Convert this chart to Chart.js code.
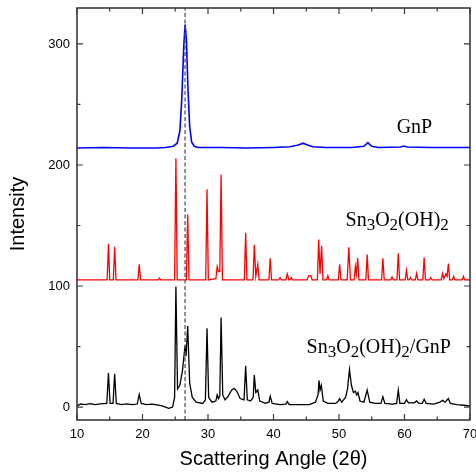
<!DOCTYPE html>
<html>
<head>
<meta charset="utf-8">
<script src="https://cdn.jsdelivr.net/npm/chart.js@4.4.1/dist/chart.umd.min.js"></script>
<style>
  html, body { margin: 0; padding: 0; background: #fff; }
  #wrap { width: 476px; height: 472px; }
</style>
</head>
<body>
<div id="wrap"><canvas id="grafico" width="476" height="472"></canvas></div>
<script>
// XRD patterns: [2θ, intensity]
const gnpPattern = [
  [10, 214], [14, 214.5], [18, 214], [22, 214], [23.5, 214.5], [24.7, 215.5], [25.3, 218],
  [25.7, 228], [26.0, 255], [26.3, 298], [26.5, 316], [26.7, 304], [26.95, 262], [27.2, 232],
  [27.5, 219], [27.9, 215.5], [28.5, 214.5], [32, 214.5], [36, 214], [40, 214.5], [42.5, 215],
  [43.8, 216.5], [44.5, 218], [45.2, 216.5], [46, 215], [48, 214.5], [52, 214.5], [53.8, 215.5],
  [54.4, 218.5], [55, 215.5], [56, 214.5], [59.4, 214.8], [59.9, 215.6], [60.4, 214.8],
  [64, 214.5], [70, 214.5]
];

const tinPattern = [
  [10, 105], [14.6, 105], [14.8, 135], [15.0, 105], [15.55, 105], [15.75, 132.5], [15.95, 105],
  [19.3, 105], [19.5, 118], [19.7, 105], [22.4, 105], [22.6, 106.5], [22.8, 105],
  [24.9, 105], [25.1, 205.5], [25.3, 105], [26.7, 105], [26.9, 159], [27.1, 105],
  [29.65, 105], [29.85, 180], [30.05, 105], [31.2, 106], [31.4, 116], [31.6, 112], [31.8, 112],
  [32.0, 192], [32.2, 105], [35.55, 105], [35.75, 144], [35.95, 105], [36.87, 105], [37.07, 134],
  [37.3, 108], [37.6, 118], [37.8, 105], [39.3, 105], [39.5, 123], [39.7, 105], [40.8, 105],
  [41.0, 107], [41.2, 105], [41.9, 105], [42.1, 110], [42.35, 105], [42.5, 105], [42.7, 107],
  [42.9, 105], [45.1, 105], [45.4, 108.5], [45.7, 108.5], [45.9, 105], [46.7, 105], [46.9, 138.5],
  [47.1, 110], [47.35, 133], [47.55, 105], [48.1, 105], [48.3, 108.5], [48.5, 105],
  [49.9, 105], [50.1, 118], [50.3, 105], [51.25, 105], [51.5, 132], [51.75, 105],
  [52.3, 105], [52.5, 116], [52.65, 110], [52.85, 123], [53.05, 105], [54.1, 105], [54.3, 126],
  [54.5, 105], [56.5, 105], [56.7, 123], [56.9, 105], [57.9, 105], [58.1, 107.5], [58.3, 105],
  [58.85, 105], [59.05, 127], [59.25, 105], [60.1, 105], [60.3, 113], [60.5, 105], [60.7, 105],
  [60.9, 107], [61.1, 105], [61.65, 105], [61.85, 110.5], [62.05, 105], [62.8, 105], [63.0, 123.5],
  [63.2, 105], [63.8, 105], [64.0, 107], [64.2, 105], [65.6, 105], [65.8, 110.5], [66.0, 106],
  [66.3, 110], [66.5, 108], [66.7, 118.5], [66.9, 105], [67.3, 105], [67.5, 108], [67.7, 105],
  [68.8, 105], [69.0, 108], [69.2, 105], [70, 105]
];

const compositePattern = [
  [10, 1], [10.6, 2.5], [11.2, 2], [12, 2.8], [12.8, 2], [13.5, 2.6], [14.55, 3], [14.8, 28], [15.05, 3],
  [15.5, 3], [15.75, 27.5], [16.0, 3], [16.8, 2], [17.6, 2.6], [18.4, 2], [19.2, 2.5], [19.5, 10.5],
  [19.8, 3], [20.6, 2], [21.4, 2.4], [22.2, 1.8], [23, 1], [24, -1], [24.6, 0], [24.9, 8],
  [25.1, 99.5], [25.35, 15], [25.7, 18], [26.1, 30], [26.5, 51], [26.65, 42], [26.9, 67],
  [27.2, 20], [27.6, 8], [28.2, 4], [29.2, 3], [29.6, 6], [29.85, 65], [30.1, 8], [30.6, 4],
  [31.2, 5], [31.4, 10], [31.6, 7], [31.8, 9], [32.0, 74], [32.25, 10], [32.6, 6], [33.1, 9],
  [33.6, 14], [34.0, 15.5], [34.4, 13], [34.9, 7], [35.5, 6], [35.75, 34], [36.0, 6], [36.5, 5],
  [36.9, 8], [37.07, 26.5], [37.3, 12], [37.6, 14], [37.9, 5], [38.8, 3], [39.3, 4], [39.5, 9],
  [39.8, 3], [41, 2], [41.9, 2.5], [42.1, 4.5], [42.4, 2], [44, 2], [45.5, 2], [46.4, 4],
  [46.8, 10], [46.95, 22], [47.1, 14], [47.3, 18], [47.6, 5], [48.3, 3], [49.5, 3], [49.9, 5],
  [50.1, 7], [50.4, 4], [51.0, 8], [51.3, 15], [51.6, 31], [51.9, 18], [52.2, 12], [52.5, 13],
  [52.7, 10], [52.9, 12], [53.2, 5], [53.8, 4], [54.3, 14], [54.7, 4], [55.5, 3], [56.4, 3],
  [56.7, 8.5], [57.0, 3], [58.2, 2.5], [58.8, 3], [59.05, 14], [59.3, 3], [60.0, 3], [60.3, 6],
  [60.6, 3.5], [61.5, 3.5], [61.85, 5], [62.2, 3], [62.7, 3], [63.0, 6.5], [63.3, 3], [64.5, 2.5],
  [65.4, 4], [65.8, 5.5], [66.2, 4], [66.7, 7], [67.0, 3], [68, 2], [69, 1.5], [70, 1]
];

// graphite (002) reference line
const refAngle = 26.5;

const xMin = 10, xMax = 70;
const yMin = -10.7, yMax = 329.7;
const xMajorTicks = [10, 20, 30, 40, 50, 60, 70];
const xMinorTicks = [15, 25, 35, 45, 55, 65];
const yMajorTicks = [0, 100, 200, 300];
const yMinorTicks = [50, 150, 250];

// curve labels: [text, subscript?]
const curveLabels = [
  { at: [58.8, 226.4], parts: [['GnP', false]] },
  { at: [51.0, 149.8], parts: [['Sn', false], ['3', true], ['O', false], ['2', true], ['(OH)', false], ['2', true]] },
  { at: [45.05, 44.4], parts: [['Sn', false], ['3', true], ['O', false], ['2', true], ['(OH)', false], ['2', true], ['/GnP', false]] }
];

const axisColor = '#3a3a3a';
const sansFont = '"Liberation Sans", Arial, sans-serif';

const moldura = {
  id: 'moldura',
  afterDatasetsDraw(chart) {
    const { ctx, chartArea: a, scales: { x, y } } = chart;
    ctx.save();
    ctx.strokeStyle = axisColor;
    ctx.lineWidth = 1.2;
    ctx.beginPath();
    const tickX = (vals, len) => {
      vals.forEach(v => {
        const px = x.getPixelForValue(v);
        ctx.moveTo(px, a.bottom); ctx.lineTo(px, a.bottom - len);
        ctx.moveTo(px, a.top); ctx.lineTo(px, a.top + len);
      });
    };
    const tickY = (vals, len) => {
      vals.forEach(v => {
        const py = y.getPixelForValue(v);
        ctx.moveTo(a.left, py); ctx.lineTo(a.left + len, py);
        ctx.moveTo(a.right, py); ctx.lineTo(a.right - len, py);
      });
    };
    tickX(xMajorTicks, 6); tickX(xMinorTicks, 3.5);
    tickY(yMajorTicks, 6); tickY(yMinorTicks, 3.5);
    ctx.stroke();
    ctx.lineWidth = 1.6;
    ctx.strokeRect(a.left, a.top, a.right - a.left, a.bottom - a.top);

    // curve labels
    ctx.fillStyle = '#000';
    ctx.textBaseline = 'alphabetic';
    curveLabels.forEach(l => {
      let px = x.getPixelForValue(l.at[0]);
      const py = y.getPixelForValue(l.at[1]);
      l.parts.forEach(([t, sub]) => {
        ctx.font = (sub ? '17px' : '20px') + ' "Liberation Serif", "Times New Roman", serif';
        ctx.fillText(t, px, py + (sub ? 4 : 0));
        px += ctx.measureText(t).width;
      });
    });
    ctx.restore();
  }
};

const ctx = document.getElementById('grafico').getContext('2d');
const chartXrd = new Chart(ctx, {
  type: 'line',
  data: {
    datasets: [
      {
        data: [[refAngle, yMin], [refAngle, yMax]],
        borderColor: '#555',
        borderWidth: 1.3,
        borderDash: [4, 2.5]
      },
      { label: 'GnP', data: gnpPattern, borderColor: '#0000ff', borderWidth: 1.6 },
      { label: 'Sn3O2(OH)2', data: tinPattern, borderColor: '#ff0000', borderWidth: 1.3 },
      { label: 'Sn3O2(OH)2/GnP', data: compositePattern, borderColor: '#000', borderWidth: 1.3 }
    ]
  },
  options: {
    responsive: false,
    animation: false,
    events: [],
    layout: { padding: { top: 8, right: 6, left: 0, bottom: 0 } },
    elements: { point: { radius: 0 }, line: { tension: 0 } },
    plugins: { legend: { display: false }, tooltip: { enabled: false } },
    scales: {
      x: {
        type: 'linear',
        min: xMin, max: xMax,
        afterFit: s => { s.height = 52; s.paddingLeft = 0; s.paddingRight = 0; },
        afterBuildTicks: s => { s.ticks = xMajorTicks.map(v => ({ value: v })); },
        grid: { display: false },
        border: { display: false },
        ticks: { color: '#000', padding: -1, maxRotation: 0, font: { family: sansFont, size: 13 } },
        title: {
          display: true, text: 'Scattering Angle (2θ)', color: '#000',
          font: { family: sansFont, size: 20 },
          padding: { top: 0, bottom: 1 }
        }
      },
      y: {
        type: 'linear',
        min: yMin, max: yMax,
        afterFit: s => { s.width = 77; s.paddingTop = 0; s.paddingBottom = 0; },
        afterBuildTicks: s => { s.ticks = yMajorTicks.map(v => ({ value: v })); },
        grid: { display: false },
        border: { display: false },
        ticks: { color: '#000', padding: -1, font: { family: sansFont, size: 13 } },
        title: {
          display: true, text: 'Intensity', color: '#000',
          font: { family: sansFont, size: 20 },
          padding: { top: 6, bottom: 0 }
        }
      }
    }
  },
  plugins: [moldura]
});
</script>
</body>
</html>
